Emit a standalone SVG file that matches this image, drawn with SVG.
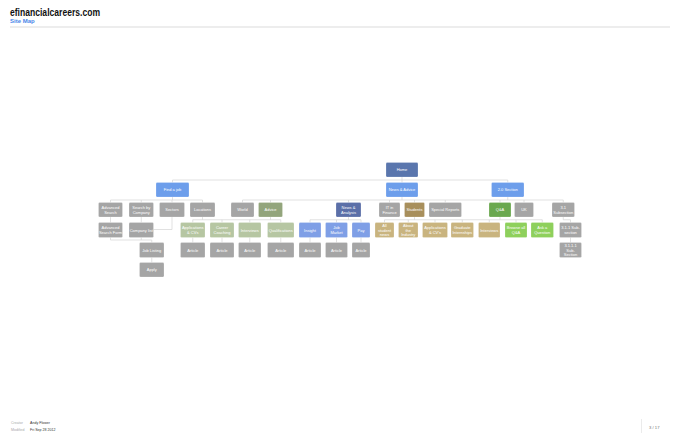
<svg xmlns="http://www.w3.org/2000/svg" width="680" height="440" viewBox="0 0 680 440">
<style>
text{font-family:"Liberation Sans",Arial,sans-serif}
.b{stroke:#ffffff;stroke-opacity:0.35;stroke-width:0.6}
.t{font-size:4px;fill:#ffffff;text-anchor:middle}
.gr{fill:#a5a5a5}
.home{fill:#5a76ad}
.l1{fill:#6d9eeb}
.na{fill:#5b6fa8}
.lb{fill:#7f9fe6}
.ol{fill:#93a57c}
.pg{fill:#b6c6a2}
.st{fill:#a88f5c}
.tan{fill:#c9b47f}
.qa{fill:#6aa84f}
.bg{fill:#8ed05c}
.c{fill:none;stroke:#d4d4d4;stroke-width:0.7}
.fl{font-size:3.6px;fill:#aaaaaa}
.fv{font-size:3.6px;fill:#333333}
</style>
<rect width="680" height="440" fill="#ffffff"/>
<g id="header">
<text x="10" y="15.5" font-size="10" font-weight="bold" fill="#111111" textLength="90" lengthAdjust="spacingAndGlyphs">efinancialcareers.com</text>
<text x="10" y="23" font-size="6" font-weight="bold" fill="#4a86e8">Site Map</text>
<line x1="10" y1="27" x2="670" y2="27" stroke="#cccccc" stroke-width="0.7"/>
</g>
<g id="connectors" class="c">
<path d="M402 177V180M172.5 180H507.75M172.5 180V182.5M402 180V182.5M507.75 180V182.5"/>
<path d="M172.5 197V200M110.5 200H202.5M110.5 200V202.5M141.25 200V202.5M172 200V202.5M202.5 200V202.5"/>
<path d="M402 197V200M507.75 197V200M242.5 200H563.25M242.5 200V202.5M270.5 200V202.5M348.5 200V202.5M389.5 200V202.5M414.5 200V202.5M445.25 200V202.5M500 200V202.5M524 200V202.5M563.25 200V202.5"/>
<path d="M110.5 217V222.5M141.25 217V222.5M172 217V229.5H153.5"/>
<path d="M202.5 217V219.75M270.5 217V219.75M192.75 219.75H280.75M192.75 219.75V222.5M222 219.75V222.5M249.75 219.75V222.5M280.75 219.75V222.5"/>
<path d="M348.5 217V219.75M310 219.75H361M310 219.75V222.5M336.5 219.75V222.5M361 219.75V222.5"/>
<path d="M414.5 217V219.75M500 217V219.75M384.5 219.75H542.25M384.5 219.75V222.5M408.25 219.75V222.5M435 219.75V222.5M462.25 219.75V222.5M489.25 219.75V222.5M516 219.75V222.5M542.25 219.75V222.5"/>
<path d="M563.25 217V219.75H570.5V222.5"/>
<path d="M110.5 237.5V240M141.25 237.5V240M110.5 240H151.75V242.5M151.75 257.5V262.5"/>
<path d="M192.75 237.5V242.5M222 237.5V242.5M249.75 237.5V242.5M280.75 237.5V242.5M310 237.5V242.5M336.5 237.5V242.5M361 237.5V242.5M570.5 237.5V242.5"/>
</g>
<g id="home"><rect class="home b" x="386" y="162.5" width="32" height="14.5" rx="1.2"/><text class="t" x="402" y="171.25">Home</text></g>
<g id="find-a-job"><rect class="l1 b" x="156" y="182.5" width="33" height="14.5" rx="1.2"/><text class="t" x="172.5" y="191.25">Find a job</text></g>
<g id="news-advice"><rect class="l1 b" x="386" y="182.5" width="32" height="14.5" rx="1.2"/><text class="t" x="402" y="191.25">News &amp; Advice</text></g>
<g id="section-2-0"><rect class="l1 b" x="491.5" y="182.5" width="32.5" height="14.5" rx="1.2"/><text class="t" x="507.75" y="191.25">2.0 Section</text></g>
<g id="advanced-search"><rect class="gr b" x="98.5" y="202.5" width="24" height="14.5" rx="1.2"/><text class="t" x="110.5" y="208.75">Advanced</text><text class="t" x="110.5" y="213.75">Search</text></g>
<g id="search-by-company"><rect class="gr b" x="129" y="202.5" width="24.5" height="14.5" rx="1.2"/><text class="t" x="141.25" y="208.75">Search by</text><text class="t" x="141.25" y="213.75">Company</text></g>
<g id="sectors"><rect class="gr b" x="159.5" y="202.5" width="25" height="14.5" rx="1.2"/><text class="t" x="172" y="211.25">Sectors</text></g>
<g id="locations"><rect class="gr b" x="190" y="202.5" width="25" height="14.5" rx="1.2"/><text class="t" x="202.5" y="211.25">Locations</text></g>
<g id="world"><rect class="gr b" x="231" y="202.5" width="23" height="14.5" rx="1.2"/><text class="t" x="242.5" y="211.25">World</text></g>
<g id="advice"><rect class="ol b" x="258.5" y="202.5" width="24" height="14.5" rx="1.2"/><text class="t" x="270.5" y="211.25">Advice</text></g>
<g id="news-analysis"><rect class="na b" x="336" y="202.5" width="25" height="14.5" rx="1.2"/><text class="t" x="348.5" y="208.75">News &amp;</text><text class="t" x="348.5" y="213.75">Analysis</text></g>
<g id="it-in-finance"><rect class="gr b" x="379" y="202.5" width="21" height="14.5" rx="1.2"/><text class="t" x="389.5" y="208.75">IT in</text><text class="t" x="389.5" y="213.75">Finance</text></g>
<g id="students"><rect class="st b" x="404.5" y="202.5" width="20" height="14.5" rx="1.2"/><text class="t" x="414.5" y="211.25">Students</text></g>
<g id="special-reports"><rect class="gr b" x="429" y="202.5" width="32.5" height="14.5" rx="1.2"/><text class="t" x="445.25" y="211.25">Special Reports</text></g>
<g id="qa"><rect class="qa b" x="489" y="202.5" width="22" height="14.5" rx="1.2"/><text class="t" x="500" y="211.25">Q&amp;A</text></g>
<g id="uk"><rect class="gr b" x="514.5" y="202.5" width="19" height="14.5" rx="1.2"/><text class="t" x="524" y="211.25">UK</text></g>
<g id="subsection-3-1"><rect class="gr b" x="552" y="202.5" width="22.5" height="14.5" rx="1.2"/><text class="t" x="563.25" y="208.75">3.1</text><text class="t" x="563.25" y="213.75">Subsection</text></g>
<g id="advanced-search-form"><rect class="gr b" x="98.5" y="222.5" width="24" height="15" rx="1.2"/><text class="t" x="110.5" y="229">Advanced</text><text class="t" x="110.5" y="234">Search Form</text></g>
<g id="company-list"><rect class="gr b" x="129" y="222.5" width="24.5" height="15" rx="1.2"/><text class="t" x="141.25" y="231.5">Company list</text></g>
<g id="applications-cvs"><rect class="pg b" x="180.5" y="222.5" width="24.5" height="15" rx="1.2"/><text class="t" x="192.75" y="229">Applications</text><text class="t" x="192.75" y="234">&amp; CVs</text></g>
<g id="career-coaching"><rect class="pg b" x="210" y="222.5" width="24" height="15" rx="1.2"/><text class="t" x="222" y="229">Career</text><text class="t" x="222" y="234">Coaching</text></g>
<g id="interviews"><rect class="pg b" x="238.5" y="222.5" width="22.5" height="15" rx="1.2"/><text class="t" x="249.75" y="231.5">Interviews</text></g>
<g id="qualifications"><rect class="pg b" x="267.5" y="222.5" width="26.5" height="15" rx="1.2"/><text class="t" x="280.75" y="231.5">Qualifications</text></g>
<g id="insight"><rect class="lb b" x="299" y="222.5" width="22" height="15" rx="1.2"/><text class="t" x="310" y="231.5">Insight</text></g>
<g id="job-market"><rect class="lb b" x="325.5" y="222.5" width="22" height="15" rx="1.2"/><text class="t" x="336.5" y="229">Job</text><text class="t" x="336.5" y="234">Market</text></g>
<g id="pay"><rect class="lb b" x="352" y="222.5" width="18" height="15" rx="1.2"/><text class="t" x="361" y="231.5">Pay</text></g>
<g id="all-student-news"><rect class="tan b" x="375" y="222.5" width="19" height="15" rx="1.2"/><text class="t" x="384.5" y="227">All</text><text class="t" x="384.5" y="231.6">student</text><text class="t" x="384.5" y="236.2">news</text></g>
<g id="about-the-industry"><rect class="tan b" x="398.5" y="222.5" width="19.5" height="15" rx="1.2"/><text class="t" x="408.25" y="227">About</text><text class="t" x="408.25" y="231.6">the</text><text class="t" x="408.25" y="236.2">Industry</text></g>
<g id="applications-cvs-2"><rect class="tan b" x="422.5" y="222.5" width="25" height="15" rx="1.2"/><text class="t" x="435" y="229">Applications</text><text class="t" x="435" y="234">&amp; CV's</text></g>
<g id="graduate-internships"><rect class="tan b" x="451" y="222.5" width="22.5" height="15" rx="1.2"/><text class="t" x="462.25" y="229">Graduate</text><text class="t" x="462.25" y="234">Internships</text></g>
<g id="interviews-2"><rect class="tan b" x="478.5" y="222.5" width="21.5" height="15" rx="1.2"/><text class="t" x="489.25" y="231.5">Interviews</text></g>
<g id="browse-all-qa"><rect class="bg b" x="505" y="222.5" width="22" height="15" rx="1.2"/><text class="t" x="516" y="229">Browse all</text><text class="t" x="516" y="234">Q&amp;A</text></g>
<g id="ask-a-question"><rect class="bg b" x="531" y="222.5" width="22.5" height="15" rx="1.2"/><text class="t" x="542.25" y="229">Ask a</text><text class="t" x="542.25" y="234">Question</text></g>
<g id="subsection-3-1-1"><rect class="gr b" x="559.5" y="222.5" width="22" height="15" rx="1.2"/><text class="t" x="570.5" y="229">3.1.1 Sub-</text><text class="t" x="570.5" y="234">section</text></g>
<g id="job-listing"><rect class="gr b" x="139.5" y="242.5" width="24.5" height="15" rx="1.2"/><text class="t" x="151.75" y="251.5">Job Listing</text></g>
<g id="article-1"><rect class="gr b" x="180.5" y="242.5" width="24.5" height="15" rx="1.2"/><text class="t" x="192.75" y="251.5">Article</text></g>
<g id="article-2"><rect class="gr b" x="210" y="242.5" width="24" height="15" rx="1.2"/><text class="t" x="222" y="251.5">Article</text></g>
<g id="article-3"><rect class="gr b" x="238.5" y="242.5" width="22.5" height="15" rx="1.2"/><text class="t" x="249.75" y="251.5">Article</text></g>
<g id="article-4"><rect class="gr b" x="267.5" y="242.5" width="26.5" height="15" rx="1.2"/><text class="t" x="280.75" y="251.5">Article</text></g>
<g id="article-5"><rect class="gr b" x="299" y="242.5" width="22" height="15" rx="1.2"/><text class="t" x="310" y="251.5">Article</text></g>
<g id="article-6"><rect class="gr b" x="325.5" y="242.5" width="22" height="15" rx="1.2"/><text class="t" x="336.5" y="251.5">Article</text></g>
<g id="article-7"><rect class="gr b" x="352" y="242.5" width="18" height="15" rx="1.2"/><text class="t" x="361" y="251.5">Article</text></g>
<g id="subsection-3-1-1-1"><rect class="gr b" x="559.5" y="242.5" width="22" height="15" rx="1.2"/><text class="t" x="570.5" y="247">3.1.1.1</text><text class="t" x="570.5" y="251.6">Sub-</text><text class="t" x="570.5" y="256.2">Section</text></g>
<g id="apply"><rect class="gr b" x="139.5" y="262.5" width="24.5" height="14.5" rx="1.2"/><text class="t" x="151.75" y="271.25">Apply</text></g>
<g id="footer">
<text class="fl" x="11" y="424">Creator</text><text class="fv" x="30" y="424">Andy Flower</text>
<text class="fl" x="11" y="430.5">Modified</text><text class="fv" x="30" y="430.5">Fri Sep 28 2012</text>
<line x1="641.5" y1="419" x2="641.5" y2="433" stroke="#dddddd" stroke-width="0.6"/>
<text x="649" y="429" font-size="4.2" fill="#777777">3 / 17</text>
</g>
</svg>
